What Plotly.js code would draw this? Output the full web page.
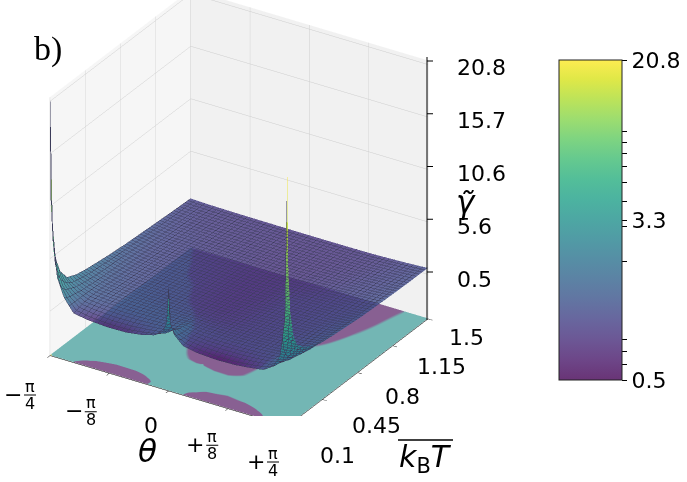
<!DOCTYPE html>
<html>
<head>
<meta charset="utf-8">
<script src="https://cdn.plot.ly/plotly-3.0.1.min.js"></script>
<style>
html, body { margin: 0; padding: 0; background: #ffffff; }
#chart { width: 687px; height: 482px; }
</style>
</head>
<body>
<div id="chart"></div>
<script>
// ---- data ----
// theta in units of pi
const thetaOverPi = [-0.25, -0.245, -0.235, -0.22, -0.2, -0.17, -0.13, -0.09, -0.055, -0.03, -0.012, -0.004, 0,
                     0.004, 0.012, 0.03, 0.06, 0.1, 0.14, 0.17, 0.2, 0.22, 0.235, 0.245, 0.25];
const kBT = [0.1, 0.11, 0.13, 0.16, 0.2, 0.27, 0.36, 0.45, 0.55, 0.7, 0.85, 1.0, 1.15, 1.3, 1.5];
// gamma tilde: one row per kBT value, one column per theta value
const gammaTilde = [
  [20.8, 9, 4, 2.2, 0.98, 0.75, 0.62, 0.65, 0.88, 1.2, 1.8, 2.8, 6.2, 2.8, 1.8, 1.0, 0.72, 0.6, 0.65, 0.8, 1.0, 1.6, 2.8, 6.5, 20.3],
  [11, 6.5, 3.6, 2.1, 0.99, 0.76, 0.64, 0.67, 0.89, 1.15, 1.6, 2.3, 3.2, 2.3, 1.6, 1.0, 0.74, 0.62, 0.67, 0.82, 1.02, 1.55, 2.5, 4.6, 11.5],
  [7, 4.8, 3.1, 2.0, 1.05, 0.8, 0.68, 0.7, 0.9, 1.12, 1.4, 1.8, 2.1, 1.8, 1.4, 1.02, 0.78, 0.66, 0.7, 0.85, 1.05, 1.5, 2.2, 3.4, 7],
  [5, 3.8, 2.7, 1.9, 1.15, 0.95, 0.84, 0.86, 1.0, 1.12, 1.3, 1.55, 1.7, 1.55, 1.3, 1.08, 0.92, 0.83, 0.87, 0.97, 1.12, 1.45, 1.9, 2.6, 4.5],
  [3.6, 3.0, 2.4, 1.8, 1.25, 1.1, 1.01, 1.02, 1.08, 1.15, 1.25, 1.4, 1.45, 1.4, 1.25, 1.12, 1.01, 0.97, 1.0, 1.08, 1.2, 1.4, 1.7, 2.2, 3.3],
  [2.5, 2.3, 2.0, 1.65, 1.35, 1.22, 1.15, 1.13, 1.15, 1.18, 1.25, 1.3, 1.32, 1.3, 1.25, 1.15, 1.1, 1.08, 1.1, 1.15, 1.25, 1.4, 1.6, 1.9, 2.6],
  [2.1, 2.0, 1.8, 1.55, 1.35, 1.25, 1.18, 1.14, 1.12, 1.1, 1.1, 1.12, 1.15, 1.12, 1.1, 1.06, 1.04, 1.05, 1.08, 1.14, 1.22, 1.35, 1.5, 1.7, 2.1],
  [1.9, 1.8, 1.65, 1.45, 1.3, 1.2, 1.12, 1.07, 1.03, 0.99, 0.97, 0.97, 0.98, 0.96, 0.95, 0.94, 0.95, 1.02, 1.06, 1.12, 1.2, 1.3, 1.42, 1.6, 1.75],
  [1.75, 1.68, 1.55, 1.38, 1.25, 1.15, 1.08, 1.03, 0.99, 0.93, 0.9, 0.9, 0.9, 0.89, 0.88, 0.88, 0.92, 1.01, 1.06, 1.1, 1.17, 1.25, 1.35, 1.5, 1.62],
  [1.55, 1.5, 1.42, 1.3, 1.18, 1.1, 1.04, 1.01, 0.94, 0.9, 0.87, 0.86, 0.86, 0.86, 0.85, 0.86, 0.9, 1.0, 1.04, 1.08, 1.13, 1.2, 1.28, 1.38, 1.45],
  [1.4, 1.36, 1.3, 1.2, 1.1, 1.05, 1.03, 0.97, 0.92, 0.88, 0.86, 0.85, 0.85, 0.85, 0.84, 0.85, 0.88, 0.99, 1.03, 1.06, 1.1, 1.15, 1.2, 1.27, 1.32],
  [1.3, 1.27, 1.22, 1.14, 1.06, 1.02, 0.97, 0.93, 0.9, 0.87, 0.85, 0.85, 0.85, 0.85, 0.84, 0.84, 0.85, 0.9, 0.97, 1.03, 1.07, 1.11, 1.16, 1.21, 1.25],
  [1.2, 1.17, 1.12, 1.06, 1.02, 0.99, 0.93, 0.9, 0.88, 0.86, 0.85, 0.85, 0.85, 0.85, 0.84, 0.84, 0.84, 0.87, 0.92, 0.99, 1.04, 1.08, 1.12, 1.16, 1.19],
  [1.1, 1.08, 1.04, 1.01, 0.97, 0.94, 0.91, 0.89, 0.87, 0.86, 0.85, 0.85, 0.85, 0.85, 0.85, 0.85, 0.85, 0.86, 0.9, 0.96, 1.02, 1.06, 1.1, 1.13, 1.15],
  [1.0, 0.99, 0.97, 0.95, 0.93, 0.91, 0.89, 0.88, 0.87, 0.86, 0.86, 0.86, 0.86, 0.86, 0.86, 0.86, 0.86, 0.87, 0.89, 0.94, 0.99, 1.04, 1.08, 1.11, 1.13]
];
// tick labels
const thetaTickVals = [-0.25, -0.125, 0, 0.125, 0.25];
const thetaTickSign = ['\u2212', '\u2212', '', '+', '+'];
const thetaTickNum = ['\u03C0', '\u03C0', '0', '\u03C0', '\u03C0'];
const thetaTickDen = ['4', '8', '', '8', '4'];
const kBTTickVals = [0.1, 0.45, 0.8, 1.15, 1.5];
const kBTTickText = ['0.1', '0.45', '0.8', '1.15', '1.5'];
const gammaTickVals = [0.5, 5.575, 10.65, 15.725, 20.8];
const gammaTickText = ['0.5', '5.6', '10.6', '15.7', '20.8'];
const cbMajorVals = [0.5, 3.22, 20.8];
const cbMajorText = ['0.5', '3.3', '20.8'];
const cbMinorVals = [0.6, 0.7, 0.8, 2, 3, 4, 5, 6, 7, 8, 9];
const contourLevels = [1, 10];
const colorMin = 0.5, colorMax = 20.8;
const floorLevel = -3.75;
const zRange = [-3.8, 21.2];

// ---- styles ----
const W = 687, H = 482;
const viridis = [
  [0, '#440154'], [0.0627, '#48186a'], [0.1255, '#472d7b'], [0.1882, '#424086'], [0.2510, '#3b528b'],
  [0.3137, '#33638d'], [0.3765, '#2c728e'], [0.4392, '#26828e'], [0.5020, '#21918c'], [0.5647, '#1fa088'],
  [0.6275, '#28ae80'], [0.6902, '#3fbc73'], [0.7529, '#5ec962'], [0.8157, '#84d44b'], [0.8784, '#addc30'],
  [0.9412, '#d8e219'], [1, '#fde725']
];
function blend(hex, alpha, bg) {
  const r = parseInt(hex.slice(1, 3), 16), g = parseInt(hex.slice(3, 5), 16), b = parseInt(hex.slice(5, 7), 16);
  const f = c => Math.round(c * alpha + bg * (1 - alpha));
  return 'rgb(' + f(r) + ',' + f(g) + ',' + f(b) + ')';
}
const surfaceAlpha = 0.8;
const lightViridis = viridis.map(s => [s[0], blend(s[1], surfaceAlpha, 255)]);

const cmin = Math.log10(colorMin), cmax = Math.log10(colorMax);
const logGamma = gammaTilde.map(row => row.map(v => Math.log10(v)));
const floorZ = gammaTilde.map(row => row.map(() => floorLevel));
const t1 = (Math.log10(contourLevels[0]) - cmin) / (cmax - cmin);
const t2 = (Math.log10(contourLevels[1]) - cmin) / (cmax - cmin);
const floorPurple = blend('#440154', 0.6, 238);
const floorTeal = blend('#21908d', 0.6, 238);
const floorYellow = blend('#fde725', 0.6, 238);
const floorScale = [[0, floorPurple], [t1, floorPurple], [t1, floorTeal], [t2, floorTeal], [t2, floorYellow], [1, floorYellow]];

const flat = { ambient: 1, diffuse: 0, specular: 0, roughness: 1, fresnel: 0 };
const meshColor = 'rgb(60,60,90)';

const surface = {
  type: 'surface', x: thetaOverPi, y: kBT, z: gammaTilde,
  surfacecolor: logGamma, cmin: cmin, cmax: cmax, colorscale: viridis, showscale: false,
  opacity: surfaceAlpha, lighting: flat, hoverinfo: 'skip',
  contours: {
    x: { show: true, start: -0.25, end: 0.25, size: 0.01, color: meshColor, width: 1, highlight: false },
    y: { show: true, start: 0.1, end: 1.5, size: 0.028, color: meshColor, width: 1, highlight: false },
    z: { highlight: false }
  }
};
const floor = {
  type: 'surface', x: thetaOverPi, y: kBT, z: floorZ,
  surfacecolor: logGamma, cmin: cmin, cmax: cmax, colorscale: floorScale, showscale: false,
  opacity: 1, lighting: flat, hoverinfo: 'skip',
  contours: { x: { highlight: false }, y: { highlight: false }, z: { highlight: false } }
};
const cbTickVals = cbMajorVals.concat(cbMinorVals).map(v => Math.log10(v));
const cbTickText = cbMajorText.concat(cbMinorVals.map(() => ''));
const colorbarCarrier = {
  type: 'heatmap', z: [[cmin, cmax]], zmin: cmin, zmax: cmax, colorscale: lightViridis,
  opacity: 0, hoverinfo: 'skip', xaxis: 'x', yaxis: 'y', showscale: true,
  colorbar: {
    x: 559 / W, xanchor: 'left', xpad: 0, y: 1 - 220 / H, yanchor: 'middle', ypad: 0,
    len: 320 / H, lenmode: 'fraction', thickness: 63, thicknessmode: 'pixels',
    outlinecolor: '#222', outlinewidth: 1,
    tickmode: 'array', tickvals: cbTickVals, ticktext: cbTickText,
    ticks: 'outside', ticklen: 5, tickwidth: 1, tickcolor: '#000',
    tickfont: { family: 'DejaVu Sans', size: 22, color: '#000' }
  }
};

const axisCommon = {
  showbackground: true, gridcolor: 'rgb(205,205,205)', gridwidth: 1,
  showline: true, linecolor: '#000', linewidth: 1, ticks: 'outside', ticklen: 5, tickcolor: '#000',
  zeroline: false, showspikes: false, tickmode: 'array', showticklabels: false, title: { text: '' }
};

// ---- tick labels drawn as paper annotations along the box edges ----
const px = x => x / W, py = y => 1 - y / H;
function lerp(p0, p1, t) { return [p0[0] + (p1[0] - p0[0]) * t, p0[1] + (p1[1] - p0[1]) * t]; }
const thetaEdge = [[29, 394], [272, 461]];      // label centres at theta = -pi/4 and +pi/4
const kBTEdge = [[318, 455], [447, 337]];       // label left edges at kBT = 0.1 and 1.5
const gammaEdge = [[455, 279], [455, 68]];      // label left edges at gamma = 0.5 and 20.8
const gammaAxisX = 427;
const gammaAxisEnds = [320, 57];
const gammaTickY = [272, 61];

const annotations = [];
const shapes = [];
function hline(x0, x1, y, w) {
  shapes.push({ type: 'line', xref: 'paper', yref: 'paper', x0: px(x0), x1: px(x1), y0: py(y), y1: py(y),
    line: { color: '#000', width: w } });
}
thetaTickVals.forEach((v, i) => {
  const p = lerp(thetaEdge[0], thetaEdge[1], (v - thetaTickVals[0]) / (thetaTickVals[4] - thetaTickVals[0]));
  if (thetaTickDen[i] === '') {
    annotations.push({ x: px(p[0]), y: py(p[1] - 2), text: thetaTickNum[i], font: { size: 22 } });
  } else {
    annotations.push({ x: px(p[0] - 16), y: py(p[1]), text: thetaTickSign[i], font: { size: 22 } });
    annotations.push({ x: px(p[0] + 1), y: py(p[1] - 8), text: thetaTickNum[i], font: { size: 16 } });
    annotations.push({ x: px(p[0] + 1), y: py(p[1] + 9), text: thetaTickDen[i], font: { size: 16 } });
    hline(p[0] - 5, p[0] + 7, p[1] + 1, 1);
  }
});
kBTTickVals.forEach((v, i) => {
  const p = lerp(kBTEdge[0], kBTEdge[1], (v - kBTTickVals[0]) / (kBTTickVals[4] - kBTTickVals[0]));
  annotations.push({ x: px(p[0]), y: py(p[1]), xanchor: 'left', text: kBTTickText[i], font: { size: 22 } });
});
gammaTickVals.forEach((v, i) => {
  const t = (v - gammaTickVals[0]) / (gammaTickVals[4] - gammaTickVals[0]);
  const p = lerp(gammaEdge[0], gammaEdge[1], t);
  annotations.push({ x: px(p[0]), y: py(p[1]), xanchor: 'left', text: gammaTickText[i], font: { size: 22 } });
  hline(gammaAxisX, gammaAxisX + 6, gammaTickY[0] + (gammaTickY[1] - gammaTickY[0]) * t, 1);
});
shapes.push({ type: 'line', xref: 'paper', yref: 'paper', x0: px(gammaAxisX), x1: px(gammaAxisX),
  y0: py(gammaAxisEnds[0]), y1: py(gammaAxisEnds[1]), line: { color: '#000', width: 1 } });
hline(398, 453, 440, 1.5);

annotations.push(
  { x: px(48), y: py(49), text: 'b)', font: { family: 'Liberation Serif', size: 34 } },
  { x: px(147), y: py(451), text: '<i>\u03B8</i>', font: { size: 31 } },
  { x: px(425), y: py(458), text: '<i>k</i><sub>B</sub><i>T</i>', font: { size: 30 } },
  { x: px(466), y: py(202), text: '<i>\u03B3\u0303</i>', font: { size: 31 } }
);
annotations.forEach(a => {
  a.xref = 'paper'; a.yref = 'paper'; a.showarrow = false;
  if (!a.xanchor) a.xanchor = 'center';
  a.yanchor = 'middle';
  a.font = Object.assign({ family: 'DejaVu Sans', color: '#000' }, a.font);
});

const eyeDir = [0.4657, -0.7452, 0.4772];
const eyeDist = 1.5;

const layout = {
  width: W, height: H, margin: { l: 0, r: 0, t: 0, b: 0, autoexpand: false },
  paper_bgcolor: '#ffffff', plot_bgcolor: 'rgba(0,0,0,0)', showlegend: false,
  font: { family: 'DejaVu Sans', color: '#000' },
  xaxis: { visible: false, domain: [0.995, 1] }, yaxis: { visible: false, domain: [0.995, 1] },
  scene: {
    domain: { x: [0.0, 0.696], y: [0.137, 1] },
    aspectmode: 'manual', aspectratio: { x: 1.345, y: 1.277, z: 1.414 },
    camera: { eye: { x: eyeDir[0] * eyeDist, y: eyeDir[1] * eyeDist, z: eyeDir[2] * eyeDist },
              center: { x: 0, y: 0, z: 0 }, up: { x: 0, y: 0, z: 1 },
              projection: { type: 'orthographic' } },
    xaxis: Object.assign({}, axisCommon, { range: [-0.25, 0.25], tickvals: thetaTickVals,
                                           backgroundcolor: 'rgb(246,246,246)' }),
    yaxis: Object.assign({}, axisCommon, { range: [0.1, 1.5], tickvals: kBTTickVals,
                                           backgroundcolor: 'rgb(241,241,241)' }),
    zaxis: Object.assign({}, axisCommon, { range: zRange, tickvals: gammaTickVals, showline: false, ticks: '',
                                           backgroundcolor: 'rgb(236,236,236)' })
  },
  annotations: annotations,
  shapes: shapes
};

Plotly.newPlot('chart', [floor, surface, colorbarCarrier], layout, { displayModeBar: false });
</script>
</body>
</html>
